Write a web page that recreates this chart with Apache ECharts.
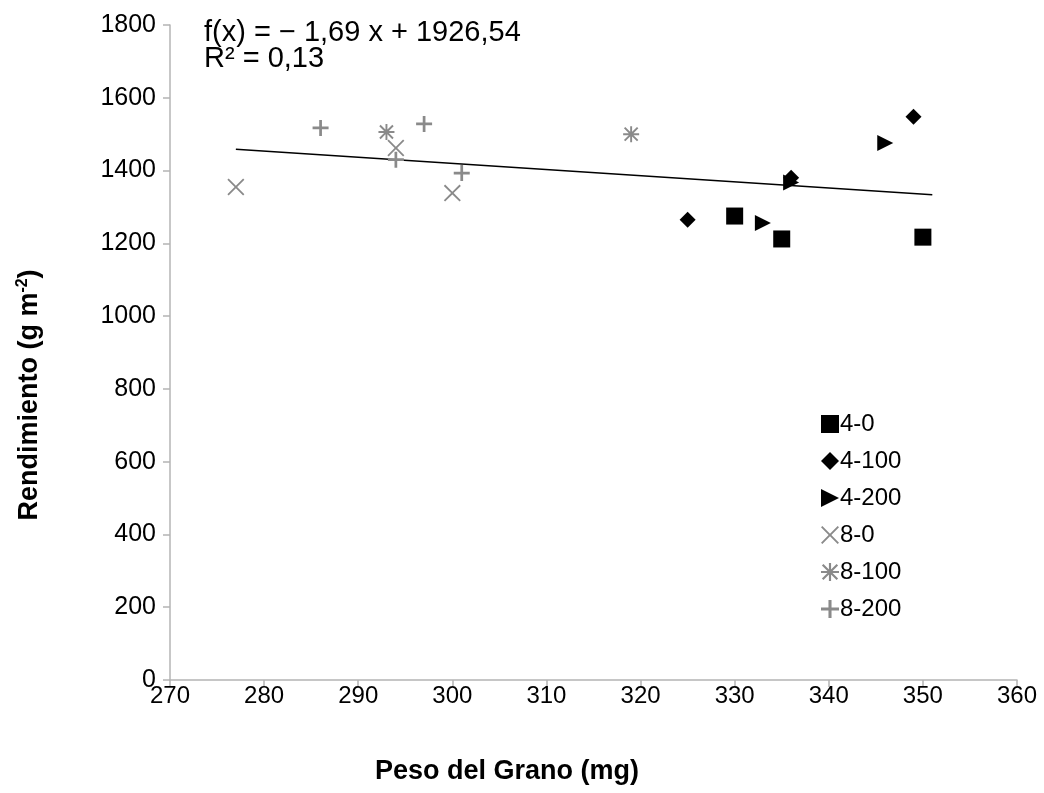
<!DOCTYPE html>
<html>
<head>
<meta charset="utf-8">
<script src="https://cdn.jsdelivr.net/npm/echarts@6/dist/echarts.min.js"></script>
<style>html,body{margin:0;padding:0;background:#fff}#c{width:1044px;height:793px}</style>
</head>
<body>
<div id="c"></div>
<script>
// Data
const s40 = [[330, 1275], [335, 1212], [350, 1217]];
const s4100 = [[325, 1265], [336, 1380], [349, 1548]];
const s4200 = [[333, 1256], [336, 1367], [346, 1476]];
const s80 = [[277, 1355], [294, 1462], [300, 1338]];
const s8100 = [[293, 1506], [319, 1500]];
const s8200 = [[286, 1517], [297, 1528], [294, 1430], [301, 1393]];
const seriesNames = ['4-0', '4-100', '4-200', '8-0', '8-100', '8-200'];
// Trend line endpoints (from the shown fit f(x) = -1.69x + 1926.54)
const trendX = [277, 351];
const trendSlope = -1.69, trendIntercept = 1926.54;
const xTicks = { min: 270, max: 360, interval: 10 };
const yTicks = { min: 0, max: 1800, interval: 200 };

const trendData = trendX.map(x => [x, trendSlope * x + trendIntercept]);

const BLACK = '#000000', GRAY = '#8a8a8a';
const symX = 'path://M0,1.5 L1.5,0 L10,8.5 L18.5,0 L20,1.5 L11.5,10 L20,18.5 L18.5,20 L10,11.5 L1.5,20 L0,18.5 L8.5,10 Z';
const symPlus = 'path://M8.3,0 L11.7,0 L11.7,8.3 L20,8.3 L20,11.7 L11.7,11.7 L11.7,20 L8.3,20 L8.3,11.7 L0,11.7 L0,8.3 L8.3,8.3 Z';
const symAst = 'path://M8.8,0 L11.2,0 L11.2,8.8 L20,8.8 L20,11.2 L11.2,11.2 L11.2,20 L8.8,20 L8.8,11.2 L0,11.2 L0,8.8 L8.8,8.8 Z M1,2.7 L2.7,1 L10,8.3 L17.3,1 L19,2.7 L11.7,10 L19,17.3 L17.3,19 L10,11.7 L2.7,19 L1,17.3 L8.3,10 Z';
const symTri = 'path://M0,0 L20,10 L0,20 Z';

const chart = echarts.init(document.getElementById('c'), null, { renderer: 'canvas' });
const FONT = 'Liberation Sans, Arial, sans-serif';

function sc(name, data, symbol, size, color) {
  return { name, type: 'scatter', data, symbol, symbolSize: size,
    itemStyle: { color, opacity: 1 }, z: 3 };
}

chart.setOption({
  animation: false,
  backgroundColor: '#ffffff',
  textStyle: { fontFamily: FONT },
  grid: { left: 170, right: 27, top: 25, bottom: 113, containLabel: false },
  xAxis: {
    type: 'value', min: xTicks.min, max: xTicks.max, interval: xTicks.interval,
    axisLine: { show: true, onZero: false, lineStyle: { color: '#b4b4b4', width: 1.5 } },
    axisTick: { show: true, length: 7, lineStyle: { color: '#b4b4b4', width: 1.5 } },
    splitLine: { show: false },
    axisLabel: { color: '#000', fontSize: 24, fontFamily: FONT, margin: 4, formatter: v => String(v) }
  },
  yAxis: {
    type: 'value', min: yTicks.min, max: yTicks.max, interval: yTicks.interval,
    axisLine: { show: true, onZero: false, lineStyle: { color: '#b4b4b4', width: 1.5 } },
    axisTick: { show: true, length: 7, lineStyle: { color: '#b4b4b4', width: 1.5 } },
    splitLine: { show: false },
    axisLabel: { color: '#000', fontSize: 25, fontFamily: FONT, margin: 14, formatter: v => String(v) }
  },
  legend: {
    data: seriesNames, orient: 'vertical', left: 816, top: 407,
    itemWidth: 18, itemHeight: 18, itemGap: 13,
    textStyle: { color: '#000', fontSize: 24, fontFamily: FONT, lineHeight: 24, padding: [0, 0, 0, -4] }
  },
  graphic: [
    { type: 'text', left: 204, top: 18,
      style: { text: 'f(x) = − 1,69 x + 1926,54\nR² = 0,13', font: '29px ' + FONT, fill: '#000', lineHeight: 26 } },
    { type: 'text', left: 375, top: 758,
      style: { text: 'Peso del Grano (mg)', font: 'bold 27px ' + FONT, fill: '#000' } },
    { type: 'text', x: 30, y: 395, rotation: Math.PI / 2,
      style: { text: 'Rendimiento (g m{sup|-2})', font: 'bold 27px ' + FONT, fill: '#000',
        align: 'center', verticalAlign: 'middle',
        rich: { sup: { fontSize: 16, fontWeight: 'bold', fontFamily: FONT, verticalAlign: 'top', padding: [0, 0, 14, 0] } } } }
  ],
  series: [
    sc('4-0', s40, 'rect', 17, BLACK),
    sc('4-100', s4100, 'diamond', 16, BLACK),
    sc('4-200', s4200, symTri, 16, BLACK),
    sc('8-0', s80, symX, 17, GRAY),
    sc('8-100', s8100, symAst, 16, GRAY),
    sc('8-200', s8200, symPlus, 16, GRAY),
    { name: 'trend', type: 'line', data: trendData, showSymbol: false, symbol: 'none',
      lineStyle: { color: '#000', width: 1.5 }, z: 2, silent: true }
  ]
});
</script>
</body>
</html>
